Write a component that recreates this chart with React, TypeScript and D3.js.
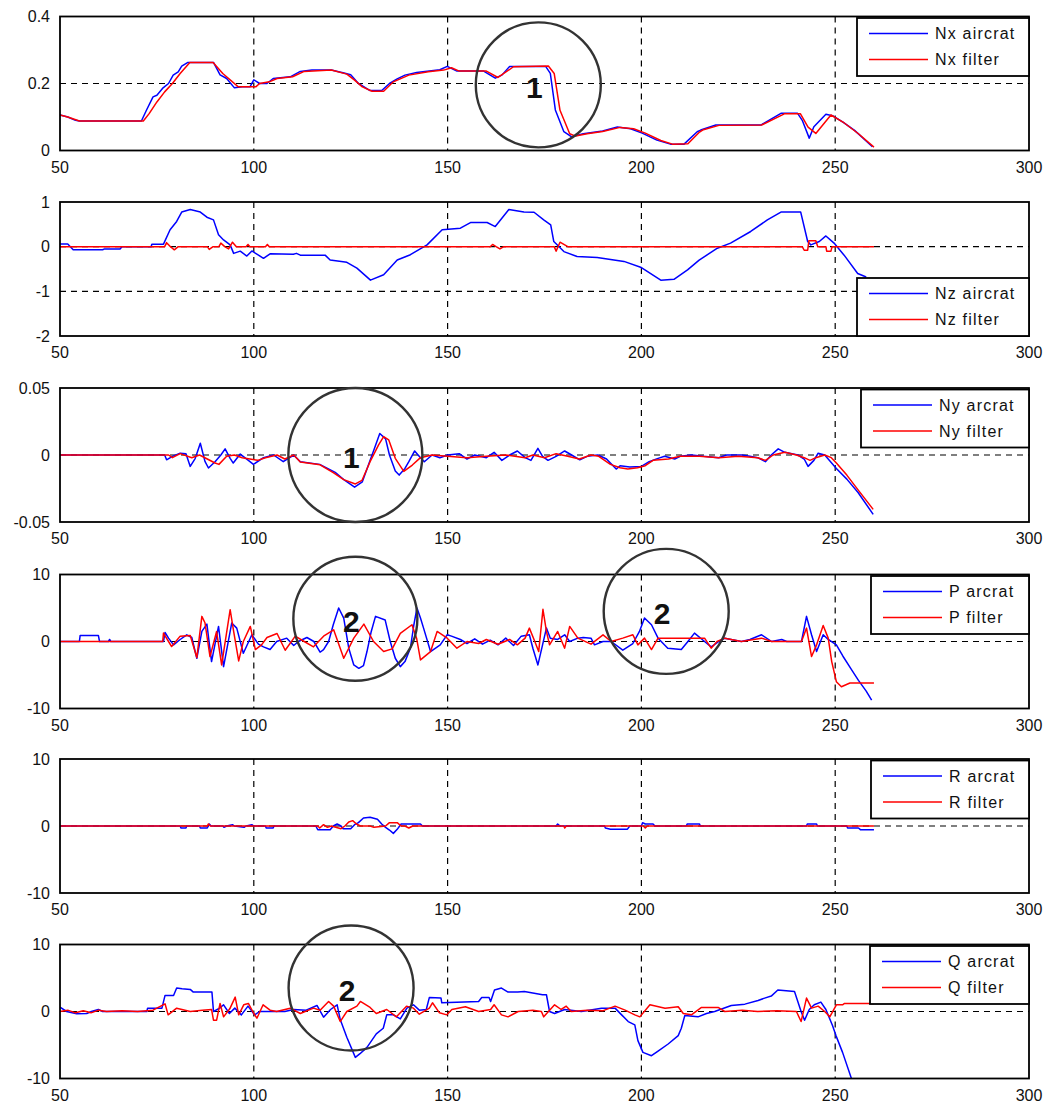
import React, { useEffect, useRef } from 'react';
import * as d3 from 'd3';

type Pt = [number, number];

// Nx
const nxAircraft: Pt[] = [[50,0.106],[52,0.1],[54,0.09],[55,0.088],[71,0.088],[72.3,0.12],[74,0.16],[75,0.165],[76.6,0.187],[78,0.2],[79.2,0.225],[80.5,0.235],[81.4,0.252],[83,0.263],[89.6,0.263],[91.3,0.226],[93,0.215],[95,0.187],[97,0.19],[99,0.19],[100,0.211],[101.5,0.2],[103.4,0.2],[105,0.215],[109.4,0.22],[112,0.236],[115,0.24],[120,0.24],[123,0.232],[125,0.226],[127,0.2],[130,0.179],[133,0.179],[135,0.2],[137,0.214],[139,0.225],[142,0.233],[148,0.241],[149.9,0.251],[152.4,0.237],[159.3,0.237],[162.3,0.216],[164,0.225],[166,0.251],[175.3,0.251],[176.5,0.23],[177.8,0.121],[180,0.056],[182,0.041],[185,0.05],[190,0.058],[193.8,0.07],[197.2,0.065],[200.2,0.052],[204,0.031],[207.5,0.019],[211,0.019],[214.4,0.056],[215.3,0.061],[219.2,0.076],[230.8,0.076],[236,0.111],[240.3,0.111],[241.5,0.09],[243.3,0.037],[244.5,0.071],[247.6,0.108],[249.3,0.104],[252,0.085],[255,0.06],[259.6,0.011]];
const nxFilter: Pt[] = [[50,0.106],[52,0.1],[55,0.088],[71.5,0.088],[73,0.11],[75,0.145],[77,0.175],[79,0.2],[81,0.23],[83.5,0.263],[89.5,0.263],[92,0.23],[96,0.19],[100.5,0.19],[101.5,0.2],[104,0.205],[106,0.215],[110,0.22],[113,0.236],[120,0.24],[124,0.228],[126,0.21],[128,0.19],[130.5,0.177],[133.5,0.177],[136,0.205],[140,0.225],[145,0.235],[149,0.24],[151,0.247],[153,0.237],[160,0.237],[163,0.218],[167,0.25],[176,0.252],[177.5,0.23],[179,0.12],[181.5,0.05],[183,0.043],[186,0.05],[190,0.057],[194.5,0.069],[198,0.065],[201,0.052],[205,0.03],[208,0.019],[212,0.02],[215,0.055],[216,0.062],[220,0.075],[231,0.076],[237,0.11],[241,0.11],[243,0.07],[245,0.051],[248.9,0.106],[252,0.085],[256,0.05],[260,0.01]];

// Nz
const nzAircraft: Pt[] = [[50,0.06],[52,0.06],[53.4,-0.07],[61,-0.07],[61.5,-0.05],[65.5,-0.05],[66,0],[73.5,0],[73.7,0.056],[76.7,0.056],[78.4,0.38],[80.1,0.565],[81.4,0.775],[83.6,0.83],[86.2,0.775],[87.9,0.66],[89.6,0.6],[90.9,0.265],[92.2,0.15],[93.9,0.04],[94.8,-0.15],[96.5,-0.1],[98.2,-0.21],[99.5,-0.095],[102.5,-0.26],[104.2,-0.16],[110.2,-0.17],[111,-0.15],[112,-0.19],[118.4,-0.19],[119.7,-0.3],[124,-0.35],[126.6,-0.48],[130.1,-0.75],[133.5,-0.63],[137,-0.3],[140.4,-0.18],[144.7,0.04],[148.6,0.38],[153.3,0.415],[155.9,0.54],[160.2,0.54],[162.3,0.45],[165.8,0.83],[169.7,0.775],[172.3,0.77],[174.8,0.6],[176.6,0.49],[177.4,0.115],[180,-0.11],[183.4,-0.22],[188.6,-0.24],[195.5,-0.33],[199.8,-0.46],[205,-0.75],[208.4,-0.73],[211.9,-0.52],[214.9,-0.3],[219.6,-0.035],[223,0.08],[228.2,0.34],[232.5,0.6],[236,0.775],[241.1,0.775],[242.9,0.115],[243.7,0.04],[245.9,0.115],[247.6,0.24],[249.7,0.08],[252.3,-0.19],[255.8,-0.6],[258,-0.68]];
const nzFilter: Pt[] = [[50,0],[77,0],[77.5,0.09],[78.5,0],[79.5,-0.07],[80.5,0],[88,0],[88.5,-0.06],[89.5,0],[91,0],[91.5,0.08],[92.5,0],[93.5,-0.05],[94.5,0.1],[95.5,0],[98,0],[98.5,0.05],[99,0],[103,0],[103.5,0.05],[104,0],[161,0],[161.6,0.05],[162.5,0],[163.5,-0.05],[164.5,0],[177.5,0],[178,-0.1],[179,0.1],[180,0.05],[181,0],[241.5,0],[242,-0.08],[242.9,-0.08],[243.2,0.13],[245,0.13],[245.5,0],[247.6,0],[247.8,-0.1],[248.9,-0.1],[249.2,0],[260,0]];

// Ny
const nyAircraft: Pt[] = [[50,0],[77,0],[77.5,-0.0036],[79,-0.001],[81,0.0014],[82.5,0.001],[83.6,-0.0085],[84.9,-0.0025],[86.2,0.0088],[87.4,-0.0048],[88.3,-0.0097],[90,-0.005],[91.5,0],[92.6,0.0046],[93.9,-0.0025],[94.7,-0.006],[96.5,0.0007],[98.6,-0.004],[99.9,-0.007],[102.5,-0.002],[105.1,0],[107.6,-0.005],[110.3,0],[112,-0.005],[117,-0.007],[121,-0.013],[123.5,-0.019],[126,-0.024],[128,-0.02],[129.5,-0.008],[131,0.004],[132.5,0.016],[134,0.012],[135,0],[136.5,-0.012],[137.5,-0.015],[139,-0.01],[140,-0.005],[141.5,0.003],[143,-0.002],[144,-0.005],[146,0],[148,-0.002],[150,0],[153,0.001],[155,-0.003],[157,0],[160,-0.002],[162,0.002],[164,-0.004],[166,0],[168,0.003],[170,-0.002],[171.5,-0.004],[173.3,0.005],[174.5,-0.001],[175.9,-0.004],[178,-0.001],[180.2,0.003],[182,0],[184.1,-0.0036],[186,-0.001],[188.8,0],[191,-0.003],[193.5,-0.0105],[194.5,-0.008],[197,-0.009],[200,-0.0085],[202,-0.005],[204.3,-0.0025],[206,-0.001],[208.6,-0.003],[210,-0.001],[212.9,0],[216,-0.001],[219.9,-0.002],[222,0],[225.9,0],[228,-0.001],[230,-0.002],[232,-0.005],[233.5,0],[235.3,0.0046],[237,0.002],[240.4,0],[242,-0.003],[243,-0.0085],[244.5,-0.004],[245.6,0.0013],[247.3,0],[250.3,-0.01],[253,-0.018],[255.9,-0.028],[259.8,-0.0443]];
const nyFilter: Pt[] = [[50,0],[78,0],[79,-0.002],[81,0.001],[84,-0.002],[86,0],[88,-0.003],[90,-0.006],[91,-0.007],[93,-0.001],[95,0],[97,-0.002],[99,-0.003],[101,-0.004],[103,-0.002],[106,0],[108,-0.003],[110.3,0],[112,-0.0053],[117.1,-0.0073],[120.6,-0.0134],[123.2,-0.0184],[126.2,-0.0216],[127.9,-0.019],[130,-0.005],[132.2,0.0076],[133.5,0.0137],[134.8,0.0113],[136.5,-0.0025],[138.7,-0.0122],[140.9,-0.0075],[143,-0.002],[146,0],[150,-0.001],[155,-0.002],[160,-0.001],[165,0],[170,-0.002],[172,0],[175,-0.002],[178,0.001],[181,-0.001],[184,-0.003],[187,0],[189,-0.001],[192,-0.007],[194.5,-0.0095],[196.5,-0.0105],[199,-0.0095],[201,-0.008],[203,-0.004],[207,-0.003],[210,-0.001],[215,-0.001],[220,-0.002],[225,-0.001],[230,-0.002],[232,-0.004],[234,0],[237,0.002],[240,0],[242,-0.002],[243.5,-0.004],[245,-0.002],[247.3,0],[249,-0.002],[250.3,-0.006],[253,-0.015],[255.9,-0.026],[259.8,-0.0406]];

// P
const pAircraft: Pt[] = [[50,0],[55,0],[55.2,0.9],[59.9,0.9],[60.2,0],[62.5,0],[62.8,0.3],[63.1,0],[76.7,0],[77.1,1.35],[78,0.5],[79.3,-0.5],[81,0.3],[82.7,1.0],[84,0.6],[85.3,-2.5],[86.6,1.5],[87.9,2.6],[89.1,-3.0],[90.9,2.25],[92.2,-3.75],[94.3,2.75],[95.6,2.0],[97.3,-1.75],[99.5,1.0],[101.2,-0.4],[102.5,-0.8],[104.2,-1.2],[105.9,0],[108.5,0.5],[110.3,-0.6],[111.5,0],[113.7,0.6],[115.5,0],[117.1,-1.6],[118,-1.2],[119.3,0],[120.5,2.5],[121.9,5.0],[123.2,3.5],[124.5,-1.0],[125.8,-3.5],[127.1,-4.0],[128.3,-3.6],[129.2,-1.5],[130.3,1.5],[131.4,3.75],[133.9,3.2],[135.2,0],[136.5,-2.5],[137.8,-3.75],[139,-3.0],[140.4,-1.0],[141.3,2.5],[142.1,5.0],[143,3.5],[143.8,2.0],[145.6,-1.5],[148.1,-0.5],[149.9,1.0],[151,0.8],[153.3,0.3],[155,-0.3],[157,0.4],[159,-0.4],[161,0.2],[163,-0.5],[165,0.5],[167,-0.6],[169,0.8],[171.1,1.0],[172,-1.0],[173.3,-3.5],[174.5,-0.5],[175.5,2.0],[176.5,0.5],[178.4,0.3],[180.2,1.0],[181.5,0],[183.6,0.5],[185,0.6],[187,0.5],[187.9,-0.5],[190.1,0],[192.2,0],[195.2,-1.3],[197.8,-0.3],[199.5,1.5],[200.8,3.5],[202.6,2.5],[204.3,0.5],[206.8,-1.0],[210.3,-1.2],[212,0],[213.7,1.25],[216.3,0],[218,-0.8],[220,0],[221.5,0.5],[225.8,0],[228,0.3],[231,1.0],[233.6,0],[236.2,0.3],[237.5,0],[241.3,0],[242.6,3.75],[243.9,1.0],[245.2,-1.5],[246.9,1.0],[248.2,0.3],[250.3,-0.5],[252,-2.2],[254,-4.0],[256,-5.8],[258,-7.4],[259.4,-8.75]];
const pFilter: Pt[] = [[50,0],[76.5,0],[76.7,1.26],[78,0],[78.8,-0.75],[81,0.8],[83.6,0.9],[85.3,-2.4],[86.6,3.75],[87.4,2.8],[88.7,-2.25],[90.4,1.5],[91.7,-3.5],[93.9,4.75],[94.8,1.5],[96.1,-2.9],[97.3,0],[99.1,2.25],[100.4,-1.2],[102,-0.5],[103.4,0.6],[106,1.2],[108.1,-1.3],[110.7,0.8],[113,0],[115.4,-0.8],[118,0.8],[120.6,1.75],[123.2,-2.5],[125.8,0.5],[128.4,2.6],[130.9,0],[133.5,-1.5],[135.7,-1.1],[137.8,1.2],[140.8,2.5],[142,0.5],[143,-2.75],[145.6,-1.5],[147.3,1.5],[149.9,0.5],[152.4,-1.0],[155,0],[158,-0.3],[160,0.3],[163,-0.4],[166,0.3],[168,-0.5],[170,0.5],[171.1,2.0],[172.5,0],[173.5,-1.5],[174.6,4.8],[175.5,1.5],[176.3,-0.5],[178.4,1.5],[180.2,-1.0],[181.5,2.25],[183.6,0.5],[187,-0.4],[190.1,1.0],[192.2,0],[195.2,0.5],[197.8,1.0],[199.1,-0.5],[200.8,0.5],[202.6,-1.2],[204.3,0.5],[206.8,0.5],[210.3,0.5],[213.7,0.5],[216.3,0.5],[218,-1.0],[219.5,0],[221.5,0.5],[225.8,0],[231,0.5],[233.6,0],[241.3,0],[242.6,2.0],[243.9,-2.25],[245.2,-0.5],[246.9,2.4],[248.2,0.5],[249.1,-3.0],[250.3,-6.0],[251.6,-6.75],[253.8,-6.2],[260,-6.2]];

// R
const rAircraft: Pt[] = [[50,0],[81,0],[81.2,-0.3],[82.5,-0.3],[82.7,0],[86,0],[86.2,-0.3],[88,-0.3],[88.5,0.3],[89,0],[92,0],[92.3,-0.2],[93,0],[94.5,0.2],[95,0],[97.5,-0.2],[98,0],[99.5,0.2],[100,0],[103,0],[103.2,-0.3],[105,-0.3],[105.2,0],[116,0],[116.5,-0.55],[119.7,-0.55],[120.5,0],[121.5,0.3],[122.5,0],[123,-0.4],[125,-0.4],[126,0.2],[127,0.5],[128.3,1.2],[130,1.3],[131.9,1.0],[133,0.3],[134,-0.2],[135,-0.6],[136,-1.1],[137,-0.5],[138,0.3],[143,0.3],[143.5,0],[178,0],[178.4,0.3],[179,0],[190.5,0],[190.7,-0.3],[192,-0.47],[196.4,-0.47],[197,0],[200,0],[200.3,0.5],[201,0.3],[203,0.3],[203.5,0],[211.6,0],[211.8,0.3],[215,0.3],[215.2,0],[242.6,0],[242.8,0.3],[245.2,0.3],[245.4,0],[253,0],[253.2,-0.3],[256,-0.3],[256.5,-0.55],[260,-0.55]];
const rFilter: Pt[] = [[50,0],[88,0],[88.3,0.3],[88.8,0],[116.5,0],[117,-0.3],[118,0.2],[119,-0.2],[120,0],[122.5,-0.4],[123.5,0],[124.5,0.6],[125.5,0.8],[126.5,0.3],[127.5,0],[130,0],[131,-0.2],[134,0],[135,0.5],[137,0.5],[138,0],[139,0],[140,-0.3],[141,0],[180,0],[180.2,-0.3],[180.6,0],[200.5,0],[201,-0.3],[201.5,0],[260,0]];

// Q
const qAircraft: Pt[] = [[50,0.65],[51.7,0],[54.3,-0.35],[56.9,-0.3],[58.1,0],[59.9,0.3],[61,0],[72.4,0],[72.6,0.5],[76.3,0.5],[77.1,2.4],[79.3,2.4],[80.1,3.5],[81.5,3.4],[83.6,3.3],[84.4,2.9],[89.2,2.9],[89.6,0],[91.2,0.5],[92.2,1.0],[93.7,-0.3],[95.1,0.5],[96.8,-0.5],[98.5,0.8],[100.2,-0.5],[101.5,0],[108,0],[110.3,0.3],[113.5,0.2],[116.3,0.9],[118,-0.85],[119.8,0.3],[121.5,1.0],[122.3,-1.2],[124,-3.85],[126.2,-6.85],[127.4,-6.3],[129.2,-5.35],[131.6,-3.35],[133.4,-2.5],[134.3,-0.5],[136,-0.5],[137.8,-1.1],[139.5,0.5],[141.2,1.0],[142.7,0.2],[144.5,0.3],[145.3,2.1],[148.3,2.0],[148.5,1.3],[158,1.5],[158.8,2.1],[160.7,2.1],[161.1,1.5],[162.1,3.2],[163.9,3.5],[165.6,2.9],[168.1,2.9],[169.8,3.0],[174.5,2.5],[175.5,2.5],[176.3,0],[177.6,-0.3],[180.2,0.3],[184.5,0],[189.7,0.5],[193.2,0.5],[194.9,-0.5],[196.6,-1.5],[198.3,-2.0],[199.1,-4.35],[200.4,-6.1],[202.6,-6.6],[204.3,-5.9],[206.9,-4.85],[209.5,-3.6],[210.3,-2.5],[211.2,-0.6],[214.6,-0.8],[216.8,-0.3],[218.9,0],[223.2,0.9],[226.7,1.1],[230.1,1.65],[231.8,2.0],[233.5,2.3],[235.2,3.2],[239.5,3.0],[241.2,0],[242.1,-1.3],[243.3,0.3],[244.6,1.0],[246.3,1.4],[247.6,0.3],[249.3,-2.1],[250.2,-3.6],[251.9,-6.1],[254.1,-9.85],[256,-13]];
const qFilter: Pt[] = [[50,0],[52,0.2],[54,-0.2],[56,0.1],[58,-0.2],[60,0.2],[62,0],[66,0.1],[70,0],[74,0.2],[77.1,1.15],[77.9,-0.5],[80.1,0.5],[83.6,0],[86.7,0.2],[89.1,0.3],[89.6,-1.3],[90.4,-1.3],[91.3,1.2],[92.2,-0.8],[93.8,0.4],[95.2,2.15],[96.1,-0.5],[97.4,1.0],[98.6,1.2],[100,-0.3],[100.8,-1.0],[102.4,1.0],[104.2,0.2],[105.9,0],[109.4,0.5],[112,-0.3],[115.4,0.5],[117.1,0.2],[119.3,1.5],[120.6,0.8],[122.3,-1.5],[124,0],[126.6,0.8],[127.5,1.5],[130,0.6],[131.6,-0.3],[134.3,0.3],[136.8,-0.8],[139.4,0.8],[141.2,0.5],[142.7,-0.4],[145.3,0.5],[146.1,1.3],[147.9,-0.2],[149.8,-0.5],[151.1,0.3],[154.6,0.7],[158,0],[161.1,0.3],[162,1.0],[163.9,-0.5],[165.6,-0.8],[168.2,0],[172,0.2],[174.2,0],[174.8,-0.8],[177.6,1.0],[179.3,0.3],[180.6,0.8],[181.9,0],[186,0.2],[190,0.1],[193.2,0.8],[195.8,0.2],[198.3,-0.5],[199.6,-0.8],[202.2,1.0],[206.1,0.5],[209.5,0.7],[210.8,-0.3],[212.9,-0.5],[215.5,0.6],[219.8,0.6],[221.5,0],[226,0.2],[230,0],[235,0.1],[240,0],[241.2,-1.5],[242.6,2.0],[243.9,0.5],[245.6,0.8],[247.3,0],[248.6,-0.8],[250.3,1.0],[251.9,1.0],[252.4,1.2],[260,1.2]];

const aircraftSeries = [nxAircraft, nzAircraft, nyAircraft, pAircraft, rAircraft, qAircraft];
const filterSeries = [nxFilter, nzFilter, nyFilter, pFilter, rFilter, qFilter];
const aircraftLabels = ['Nx aircrat', 'Nz aircrat', 'Ny arcrat', 'P arcrat', 'R arcrat', 'Q arcrat'];
const filterLabels = ['Nx filter', 'Nz filter', 'Ny filter', 'P filter', 'R filter', 'Q filter'];

const xDomain: [number, number] = [50, 300];
const xTicks = [50, 100, 150, 200, 250, 300];
const yDomains: [number, number][] = [[0, 0.4], [-2, 1], [-0.05, 0.05], [-10, 10], [-10, 10], [-10, 10]];
const yTicks = [[0, 0.2, 0.4], [-2, -1, 0, 1], [-0.05, 0, 0.05], [-10, 0, 10], [-10, 0, 10], [-10, 0, 10]];
const yTickLabels = [['0', '0.2', '0.4'], ['-2', '-1', '0', '1'], ['-0.05', '0', '0.05'], ['-10', '0', '10'], ['-10', '0', '10'], ['-10', '0', '10']];

// annotation circles
const notePanel = [0, 2, 3, 3, 5];
const noteX = [173.4, 126.2, 126.2, 206.4, 125.1];
const noteY = [0.196, 0, 3.4, 4.5, 3.5];
const noteText = ['1', '1', '2', '2', '2'];

export default function App() {
  const svgRef = useRef<SVGSVGElement | null>(null);

  useEffect(() => {
    if (!svgRef.current) return;
    const svg = d3.select(svgRef.current);
    svg.selectAll('*').remove();

    const width = 1049;
    const left = 60;
    const right = 1029;
    const panelTops = [16.5, 202, 388, 574.5, 759, 944.5];
    const panelH = 134;
    const legendW = [172, 172, 168, 158, 158, 159];
    const legendAtBottom = [false, true, false, false, false, false];
    const circleR = [62.5, 67, 62, 62.5, 62.5];
    const font = "'Liberation Sans', Arial, sans-serif";

    const x = d3.scaleLinear().domain(xDomain).range([left, right]);

    svg.append('rect').attr('width', width).attr('height', 1104).attr('fill', 'white');

    const yScales: d3.ScaleLinear<number, number>[] = [];

    panelTops.forEach((top, i) => {
      const bottom = top + panelH;
      const y = d3.scaleLinear().domain(yDomains[i]).range([bottom, top]);
      yScales.push(y);
      const g = svg.append('g');

      g.append('clipPath').attr('id', `clip${i}`)
        .append('rect').attr('x', left).attr('y', top).attr('width', right - left).attr('height', panelH);

      // grid
      const grid = g.append('g').attr('stroke', '#000').attr('stroke-width', 1.2).attr('stroke-dasharray', '6,5');
      grid.selectAll('line.gx')
        .data(xTicks.filter(t => t > xDomain[0] && t < xDomain[1]))
        .join('line')
        .attr('x1', d => x(d)).attr('x2', d => x(d))
        .attr('y1', top).attr('y2', bottom);
      grid.selectAll('line.gy')
        .data(yTicks[i].filter(t => t > yDomains[i][0] && t < yDomains[i][1]))
        .join('line')
        .attr('class', 'gy')
        .attr('x1', left).attr('x2', right)
        .attr('y1', d => y(d)).attr('y2', d => y(d));

      // lines
      const line = d3.line<Pt>().x(d => x(d[0])).y(d => y(d[1]));
      const lines = g.append('g').attr('clip-path', `url(#clip${i})`)
        .attr('fill', 'none').attr('stroke-width', 1.5).attr('stroke-linejoin', 'round');
      lines.append('path').attr('stroke', '#0000ff').attr('d', line(aircraftSeries[i]));
      lines.append('path').attr('stroke', '#ff0000').attr('d', line(filterSeries[i]));

      // axes box
      g.append('rect')
        .attr('x', left).attr('y', top).attr('width', right - left).attr('height', panelH)
        .attr('fill', 'none').attr('stroke', '#000').attr('stroke-width', 1.8);

      // tick labels
      g.append('g').attr('font-family', font).attr('font-size', 16).attr('fill', '#111')
        .attr('text-anchor', 'end')
        .selectAll('text')
        .data(yTicks[i])
        .join('text')
        .attr('x', left - 10)
        .attr('y', d => y(d))
        .attr('dy', '0.36em')
        .text((d, k) => yTickLabels[i][k]);

      g.append('g').attr('font-family', font).attr('font-size', 16).attr('fill', '#111')
        .attr('text-anchor', 'middle')
        .selectAll('text')
        .data(xTicks)
        .join('text')
        .attr('x', d => x(d))
        .attr('y', bottom + 22)
        .text(d => String(d));

      // legend
      const lw = legendW[i];
      const lh = 58;
      const lx = right - lw;
      const ly = legendAtBottom[i] ? bottom - lh : top + 1.5;
      const lg = g.append('g');
      lg.append('rect').attr('x', lx).attr('y', ly).attr('width', lw).attr('height', lh)
        .attr('fill', 'white').attr('stroke', '#000').attr('stroke-width', 1.8);
      const items = [
        { color: '#0000ff', label: aircraftLabels[i], dy: 15.5 },
        { color: '#ff0000', label: filterLabels[i], dy: 41.5 },
      ];
      items.forEach(it => {
        lg.append('line').attr('x1', lx + 12).attr('x2', lx + 71)
          .attr('y1', ly + it.dy).attr('y2', ly + it.dy)
          .attr('stroke', it.color).attr('stroke-width', 1.5);
        lg.append('text').attr('x', lx + 78).attr('y', ly + it.dy).attr('dy', '0.36em')
          .attr('font-family', font).attr('font-size', 16).attr('letter-spacing', 1.2)
          .attr('fill', '#111').text(it.label);
      });
    });

    // annotation circles
    const notes = svg.append('g');
    noteText.forEach((t, k) => {
      const y = yScales[notePanel[k]];
      const cx = x(noteX[k]);
      const cy = y(noteY[k]);
      notes.append('circle').attr('cx', cx).attr('cy', cy).attr('r', circleR[k])
        .attr('fill', 'none').attr('stroke', '#333').attr('stroke-width', 2.4);
      notes.append('text').attr('x', cx - 4).attr('y', cy + 2).attr('dy', '0.36em')
        .attr('text-anchor', 'middle').attr('font-family', font).attr('font-weight', 'bold')
        .attr('font-size', 30).attr('fill', '#111').text(t);
    });
  }, []);

  return (
    <svg ref={svgRef} width={1049} height={1104}
      style={{ position: 'absolute', left: 0, top: 0, display: 'block' }} />
  );
}
